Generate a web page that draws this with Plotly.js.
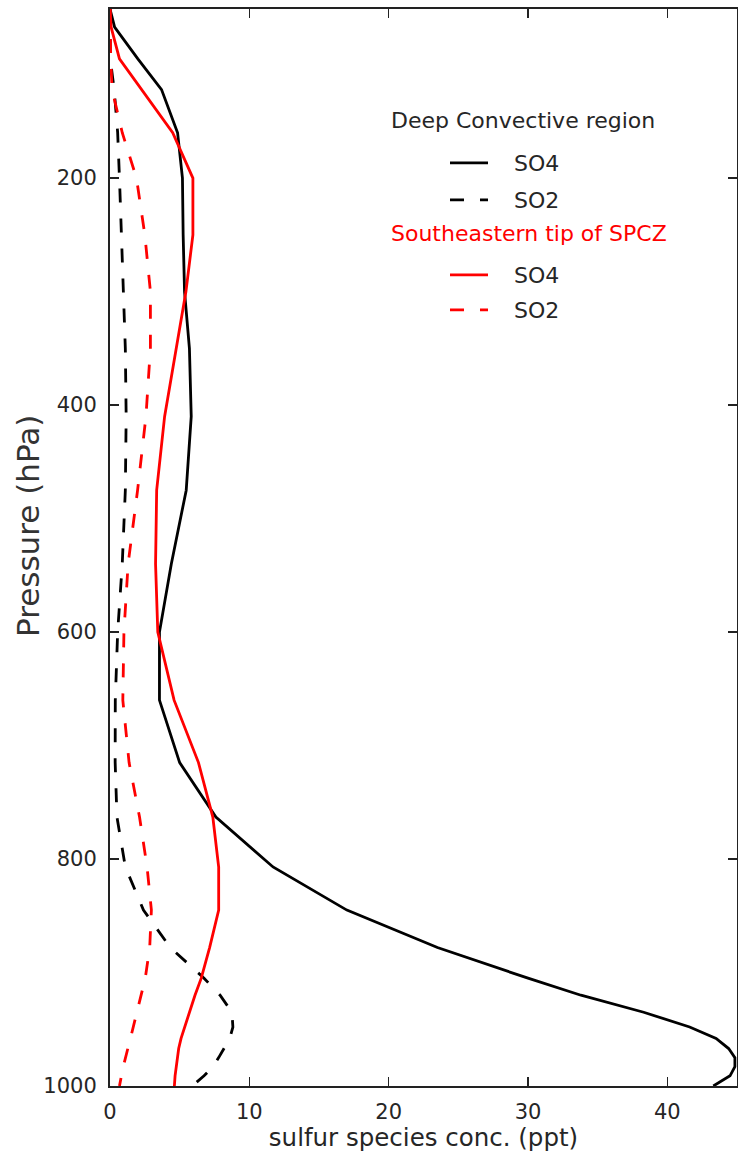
<!DOCTYPE html>
<html>
<head>
<meta charset="utf-8">
<script src="https://cdn.plot.ly/plotly-3.0.1.min.js"></script>
<style>html,body{margin:0;padding:0;background:#fff;}#chart{width:738px;height:1152px;}</style>
</head>
<body>
<div id="chart"></div>
<script>
// Pressure levels (hPa)
const pressure = [51, 67, 95, 122, 160, 200, 250, 300, 350, 410, 475, 540, 600, 660, 715, 763, 807, 845, 878, 905, 920, 935, 948, 958, 967, 975, 983, 991, 1000];
// Deep Convective region
const deepSO4 = [0.0, 0.33, 2.0, 3.7, 4.85, 5.2, 5.25, 5.35, 5.7, 5.83, 5.47, 4.4, 3.55, 3.55, 5.0, 7.6, 11.7, 17.0, 23.5, 30.0, 33.8, 38.3, 41.6, 43.5, 44.4, 44.85, 44.85, 44.5, 43.3];
const deepSO2 = [0.0, 0.0, 0.02, 0.3, 0.55, 0.68, 0.82, 1.0, 1.1, 1.16, 1.1, 0.88, 0.55, 0.38, 0.37, 0.5, 1.1, 2.4, 4.33, 6.75, 7.9, 8.75, 8.82, 8.6, 8.2, 7.8, 7.38, 6.75, 5.9];
// Southeastern tip of SPCZ
const spczSO4 = [0.0, 0.08, 0.68, 2.25, 4.5, 5.95, 5.95, 5.45, 4.75, 3.92, 3.35, 3.27, 3.43, 4.6, 6.35, 7.38, 7.8, 7.8, 7.15, 6.55, 6.1, 5.7, 5.35, 5.1, 4.93, 4.83, 4.74, 4.67, 4.62];
const spczSO2 = [0.0, 0.02, 0.05, 0.15, 0.88, 1.9, 2.5, 2.9, 2.9, 2.58, 1.98, 1.3, 1.0, 0.92, 1.37, 2.12, 2.66, 2.97, 2.85, 2.53, 2.24, 1.96, 1.7, 1.47, 1.28, 1.1, 0.95, 0.82, 0.68];

const seriesNames = ['SO4', 'SO2', 'SO4', 'SO2'];
const groupTitles = ['Deep Convective region', 'Southeastern tip of SPCZ'];
const xTicks = [0, 10, 20, 30, 40];
const yTicks = [200, 400, 600, 800, 1000];

const FONT = 'DejaVu Sans, Liberation Sans, sans-serif';
const TXT = '#262626';
const DASH = '14px,16px';
const PAD = '\u00a0\u00a0\u00a0';

const traces = [
  {x: deepSO4, y: pressure, name: PAD + seriesNames[0], mode: 'lines', line: {color: '#000000', width: 2.8}, legend: 'legend'},
  {x: deepSO2, y: pressure, name: PAD + seriesNames[1], mode: 'lines', line: {color: '#000000', width: 2.8, dash: DASH}, legend: 'legend2'},
  {x: spczSO4, y: pressure, name: PAD + seriesNames[2], mode: 'lines', line: {color: '#ff0000', width: 2.8}, legend: 'legend3'},
  {x: spczSO2, y: pressure, name: PAD + seriesNames[3], mode: 'lines', line: {color: '#ff0000', width: 2.8, dash: DASH}, legend: 'legend4'}
];

const L = 110, T = 9, W = 627, H = 1077;
const px = v => (v - L) / W;
const py = v => (T + H - v) / H;

function leg(yPix) {
  return {x: px(445), y: py(yPix), xanchor: 'left', yanchor: 'middle', itemwidth: 38,
    font: {family: FONT, size: 22, color: TXT}, bgcolor: 'rgba(0,0,0,0)', borderwidth: 0};
}

const axisCommon = {
  ticks: 'inside', ticklen: 9, tickwidth: 1.5, tickcolor: '#222',
  mirror: 'allticks', showline: true, linecolor: '#222', linewidth: 2,
  showgrid: false, zeroline: false,
  tickfont: {family: FONT, size: 21, color: TXT}
};

const layout = {
  width: 738, height: 1152,
  margin: {l: L, r: 738 - L - W, t: T, b: 1152 - T - H},
  paper_bgcolor: '#ffffff', plot_bgcolor: '#ffffff',
  font: {family: FONT, color: TXT},
  xaxis: Object.assign({}, axisCommon, {
    range: [0, 45], tickvals: xTicks, ticklabelstandoff: 6,
    title: {text: 'sulfur species conc. (ppt)', font: {family: FONT, size: 24.5, color: TXT}, standoff: 7}
  }),
  yaxis: Object.assign({}, axisCommon, {
    range: [1000, 51], tickvals: yTicks, ticklabelstandoff: 7
  }),
  showlegend: true,
  legend: leg(163), legend2: leg(200), legend3: leg(275), legend4: leg(310),
  annotations: [
    {text: groupTitles[0], xref: 'paper', yref: 'paper', x: px(389), y: py(120), xanchor: 'left', yanchor: 'middle', showarrow: false, font: {family: FONT, size: 22, color: TXT}},
    {text: groupTitles[1], xref: 'paper', yref: 'paper', x: px(389), y: py(233), xanchor: 'left', yanchor: 'middle', showarrow: false, font: {family: FONT, size: 22, color: '#ff0000'}},
    {text: 'Pressure (hPa)', xref: 'paper', yref: 'paper', x: px(28), y: py(526), xanchor: 'center', yanchor: 'middle', textangle: -90, showarrow: false, font: {family: FONT, size: 31, color: '#333'}}
  ]
};

Plotly.newPlot('chart', traces, layout, {displayModeBar: false, staticPlot: true});
</script>
</body>
</html>
